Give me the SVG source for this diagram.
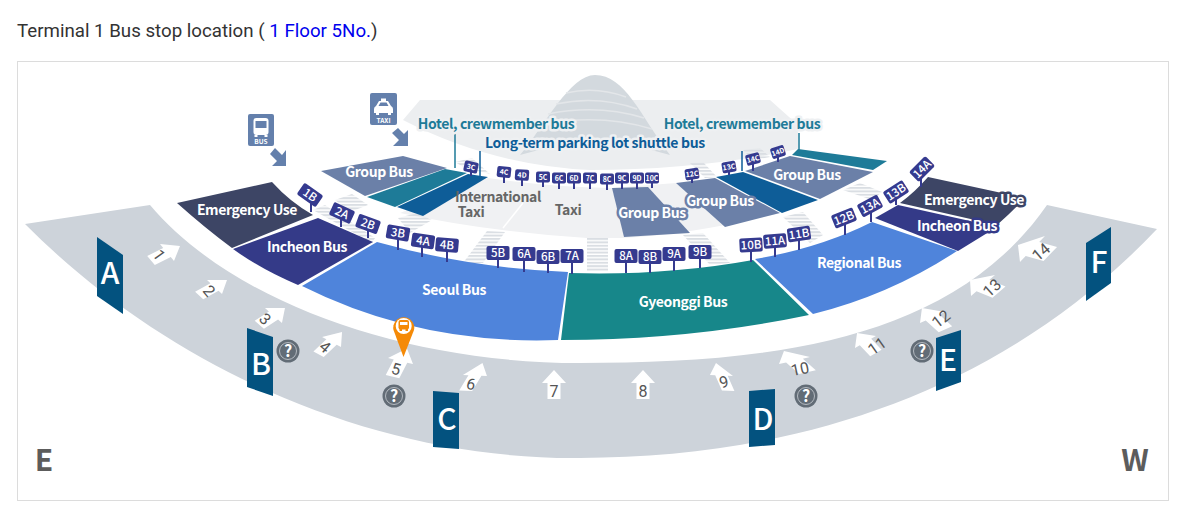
<svg xmlns="http://www.w3.org/2000/svg" width="1189" height="513" viewBox="0 0 1189 513">
<style>
text{font-family:"Noto Sans CJK KR","Noto Sans",sans-serif;text-anchor:middle}
.title{font-family:Roboto,sans-serif;font-size:18.7px;text-anchor:start;fill:#333}
.zone{font-size:14px;font-weight:700;fill:#fff;letter-spacing:-.4px}
.halo{paint-order:stroke;stroke-width:5px;stroke-linejoin:round}
.tag rect{fill:#353a8f;rx:2px}
.big text{font-size:11.5px;fill:#fff;font-weight:500}
.small text{font-size:7px;fill:#fff;font-weight:700}
.stem{stroke:#353a8f;stroke-width:2;fill:none}
.door{fill:#03527f}
.doortxt{font-size:30px;font-weight:500;fill:#fff}
.dir{font-size:30px;font-weight:700;fill:#5c5c5c}
.arrow use{fill:#fff}
.arrow text{font-family:Roboto,sans-serif;font-size:16px;fill:#555}
.q circle.o{fill:#626c76}
.q circle.i{fill:none;stroke:#b4bac1;stroke-width:1}
.q text{font-size:16px;font-weight:700;fill:#fff}
.cross{fill:url(#stripes)}
.hotel{font-size:14px;font-weight:700;fill:#1e7b98;letter-spacing:-.4px}
.long{font-size:14px;font-weight:700;fill:#0e5d98;letter-spacing:-.32px}
.gray{font-size:14px;font-weight:700;fill:#666;letter-spacing:-.4px}
</style>
<defs>
<pattern id="stripes" width="4" height="3.4" patternUnits="userSpaceOnUse"><rect width="4" height="2" fill="#dadee3"/></pattern>
<path id="arw" d="M0,-15 L12,-2 L6.5,-2 L6.5,14 L-6.5,14 L-6.5,-2 L-12,-2 Z"/>
</defs>
<text class="title" x="17" y="36.500">Terminal 1 Bus stop location ( <tspan fill="#0000ee">1 Floor 5No.</tspan>)</text>
<rect x="17.5" y="61.5" width="1151" height="439" fill="#fff" stroke="#dcdcdc"/>

<g id="terminal">
<path fill="#eceef0" d="M403,120 L420,100 L770,100 L798,125 L798,149 Q700,170 590,170 Q490,165 403,120 Z"/>
<path fill="#d3d9de" d="M520,155 C545,125 570,75 595,75 C625,75 640,115 670,155 Q595,132 520,155 Z"/>
<path fill="none" stroke="#e3e6e9" stroke-width="1.5" d="M566,93 Q596,86 626,97 M556,104 Q598,95 637,109 M548,114 Q598,104 644,118 M540,125 Q598,113 652,129"/>
<path fill="#f0f1f3" d="M488,178 Q550,187 612,188 L676,183 L780,213 Q690,235 623,238 L587,238 Q490,232 400,213 Z"/>
<path fill="none" stroke="#fff" stroke-width="1.5" d="M523,203 L503,228"/>
</g>
<g id="crosswalks">
<polygon class="cross" points="487,231 505,232 483,263 463,263"/>
<polygon class="cross" points="587,238 608,238 608,272 587,272"/>
<polygon class="cross" points="313,210 325,205 375,238 372,243"/>
<polygon class="cross" points="335,200 352,194 368,205 350,212"/>
<polygon class="cross" points="398,218 417,213 432,220 410,233"/>
<polygon class="cross" points="683,235 703,233 730,263 710,265"/>
<polygon class="cross" points="783,217 803,212 823,235 810,243"/>
<polygon class="cross" points="843,190 860,183 882,192 872,200"/>
<polygon class="cross" points="455,162 472,158 490,174 465,168"/>
<polygon class="cross" points="690,163 703,162 717,177 705,178"/>
<polygon class="cross" points="743,150 760,148 770,157 753,160"/>
</g>

<path id="band" fill="#cdd3da" d="M25,224 L150,205 C230,300 400,363 580,363 C760,363 950,345 1047,205 L1157,229 C1000,395 790,458 580,458 C370,460 165,365 25,224 Z"/>

<g id="zone-emergency-l"><path fill="#3d4565" d="M177,203 L272,182 Q290,202 313,215 L232,248 Q205,228 177,203 Z"/><text class="zone" x="247" y="215">Emergency Use</text></g>
<g id="zone-incheon-l"><path fill="#343a88" d="M318,218 L373,242 L298,285 Q262,270 233,249 Z"/><text class="zone" x="307" y="252">Incheon Bus</text></g>
<g id="zone-seoul"><path fill="#4f84db" d="M377,242 Q470,268 568,272 L558,340 Q420,345 302,286 Z"/><text class="zone" x="454" y="295">Seoul Bus</text></g>
<g id="zone-gyeonggi"><path fill="#17878a" d="M569,273 Q665,276 753,260 L809,315 Q690,340 561,340 Z"/><text class="zone" x="683" y="307">Gyeonggi Bus</text></g>
<g id="zone-regional"><path fill="#4f84db" d="M755,259 Q820,248 872,222 L957,251 Q890,295 813,314 Z"/><text class="zone" x="859" y="268">Regional Bus</text></g>
<g id="zone-emergency-r"><path fill="#3d4565" d="M928,177 L1025,198 Q1012,212 997,225 L900,203 Q915,192 928,177 Z"/><text class="zone halo" stroke="#3d4565" x="974" y="205">Emergency Use</text></g>
<g id="zone-incheon-r"><path fill="#343a88" d="M875,218 L898,205 L997,227 L958,251 Z"/><text class="zone halo" stroke="#343a88" x="957" y="231">Incheon Bus</text></g>

<g id="zone-group-1"><path fill="#6b80a8" d="M321,171 L403,156 L447,168 L365,196 Z"/><text class="zone" x="379" y="177">Group Bus</text></g>
<path id="zone-hotel-l" fill="#1e7b98" d="M445,169 L467,173 L395,207 L367,197 Z"/>
<path id="zone-long-l" fill="#0e5d98" d="M468,174 L488,177 L423,216 L397,207 Z"/>
<g id="zone-group-2"><path fill="#6b80a8" d="M612,188 L648,187 L690,233 L624,237 Z"/></g>
<g id="zone-group-3"><path fill="#6b80a8" d="M676,183 L715,178 L780,213 L725,227 Z"/></g>
<path id="zone-long-r" fill="#0e5d98" d="M716,177 L743,172 L818,200 L782,213 Z"/>
<g id="zone-group-4"><path fill="#6b80a8" d="M745,171 L790,156 L873,172 L820,199 Z"/><text class="zone" x="807" y="180">Group Bus</text></g>
<path id="zone-hotel-r" fill="#1e7b98" d="M792,155 L798,149 L887,161 L873,170 Z"/>
<text id="lbl-group-2" class="zone halo" stroke="#6b80a8" x="652" y="218">Group Bus</text>
<text id="lbl-group-3" class="zone halo" stroke="#6b80a8" x="720" y="206">Group Bus</text>

<g id="lbl-taxi">
<text class="gray" x="498" y="202">International</text>
<text class="gray" x="471" y="217">Taxi</text>
<text class="gray" x="568" y="215">Taxi</text>
</g>

<g id="connectors">
<path fill="none" stroke="#1e7b98" stroke-width="1.5" d="M455,133 V168 M799,133 V150"/>
<path fill="none" stroke="#0e5d98" stroke-width="1.5" d="M480,151 V177 M742,151 V171"/>
<path class="stem" d="M311,200 V212 M341,216 V227 M368,227 V238 M398,236 V250 M422,244 V257 M447,248 V262 M498,256 V268 M524,257 V272 M548,260 V273 M572,259 V274 M626,259 V273 M650,260 V273 M674,257 V271 M700,255 V268 M751,248 V262 M775,244 V257 M799,237 V250 M845,221 V235 M871,209 V222 M896,195 V205 M921,172 V187"/>
<path class="stem" stroke-width="1.5" d="M471,170 V176 M504,175 V183 M522,178 V186 M543,180 V187 M559,181 V189 M574,181 V189 M590,181 V189 M607,182 V190 M622,181 V189 M637,181 V189 M652,181 V188 M692,177 V183 M729,170 V175 M753,162 V171 M778,155 V162"/>
</g>

<g id="hotel-labels">
<text class="hotel halo" stroke="#eef0f2" x="496" y="129">Hotel, crewmember bus</text>
<text class="hotel halo" stroke="#eef0f2" x="742" y="129">Hotel, crewmember bus</text>
<text class="long halo" stroke="#eef0f2" x="595" y="148">Long-term parking lot shuttle bus</text>
</g>

<g id="tag-1B" class="tag big" transform="translate(310,195) rotate(35)"><rect x="-11.5" y="-7" width="23" height="14"/><text y="4">1B</text></g>
<g id="tag-2A" class="tag big" transform="translate(342,213) rotate(25)"><rect x="-11.5" y="-7" width="23" height="14"/><text y="4">2A</text></g>
<g id="tag-2B" class="tag big" transform="translate(368,224) rotate(20)"><rect x="-11.5" y="-7" width="23" height="14"/><text y="4">2B</text></g>
<g id="tag-3B" class="tag big" transform="translate(398,233) rotate(10)"><rect x="-11.5" y="-7" width="23" height="14"/><text y="4">3B</text></g>
<g id="tag-4A" class="tag big" transform="translate(423,241) rotate(8)"><rect x="-11.5" y="-7" width="23" height="14"/><text y="4">4A</text></g>
<g id="tag-4B" class="tag big" transform="translate(447,245) rotate(5)"><rect x="-11.5" y="-7" width="23" height="14"/><text y="4">4B</text></g>
<g id="tag-5B" class="tag big" transform="translate(498,253)"><rect x="-11.5" y="-7" width="23" height="14"/><text y="4">5B</text></g>
<g id="tag-6A" class="tag big" transform="translate(524,254)"><rect x="-11.5" y="-7" width="23" height="14"/><text y="4">6A</text></g>
<g id="tag-6B" class="tag big" transform="translate(548,257)"><rect x="-11.5" y="-7" width="23" height="14"/><text y="4">6B</text></g>
<g id="tag-7A" class="tag big" transform="translate(572,256)"><rect x="-11.5" y="-7" width="23" height="14"/><text y="4">7A</text></g>
<g id="tag-8A" class="tag big" transform="translate(626,256)"><rect x="-11.5" y="-7" width="23" height="14"/><text y="4">8A</text></g>
<g id="tag-8B" class="tag big" transform="translate(650,257)"><rect x="-11.5" y="-7" width="23" height="14"/><text y="4">8B</text></g>
<g id="tag-9A" class="tag big" transform="translate(674,254)"><rect x="-11.5" y="-7" width="23" height="14"/><text y="4">9A</text></g>
<g id="tag-9B" class="tag big" transform="translate(700,252)"><rect x="-11.5" y="-7" width="23" height="14"/><text y="4">9B</text></g>
<g id="tag-10B" class="tag big" transform="translate(751,245) rotate(-3)"><rect x="-11.5" y="-7" width="23" height="14"/><text y="4">10B</text></g>
<g id="tag-11A" class="tag big" transform="translate(775,241) rotate(-5)"><rect x="-11.5" y="-7" width="23" height="14"/><text y="4">11A</text></g>
<g id="tag-11B" class="tag big" transform="translate(799,234) rotate(-8)"><rect x="-11.5" y="-7" width="23" height="14"/><text y="4">11B</text></g>
<g id="tag-12B" class="tag big" transform="translate(844,218) rotate(-22)"><rect x="-11.5" y="-7" width="23" height="14"/><text y="4">12B</text></g>
<g id="tag-13A" class="tag big" transform="translate(870,206) rotate(-28)"><rect x="-11.5" y="-7" width="23" height="14"/><text y="4">13A</text></g>
<g id="tag-13B" class="tag big" transform="translate(896,192) rotate(-33)"><rect x="-11.5" y="-7" width="23" height="14"/><text y="4">13B</text></g>
<g id="tag-14A" class="tag big" transform="translate(922,169) rotate(-45)"><rect x="-11.5" y="-7" width="23" height="14"/><text y="4">14A</text></g>

<g id="tag-3C" class="tag small" transform="translate(471,167) rotate(12)"><rect x="-7" y="-5.5" width="14" height="11"/><text y="2.5">3C</text></g>
<g id="tag-4C" class="tag small" transform="translate(504,172) rotate(6)"><rect x="-7" y="-5.5" width="14" height="11"/><text y="2.5">4C</text></g>
<g id="tag-4D" class="tag small" transform="translate(522,175) rotate(4)"><rect x="-7" y="-5.5" width="14" height="11"/><text y="2.5">4D</text></g>
<g id="tag-5C" class="tag small" transform="translate(543,177)"><rect x="-7" y="-5.5" width="14" height="11"/><text y="2.5">5C</text></g>
<g id="tag-6C" class="tag small" transform="translate(559,178)"><rect x="-7" y="-5.5" width="14" height="11"/><text y="2.5">6C</text></g>
<g id="tag-6D" class="tag small" transform="translate(574,178)"><rect x="-7" y="-5.5" width="14" height="11"/><text y="2.5">6D</text></g>
<g id="tag-7C" class="tag small" transform="translate(590,178)"><rect x="-7" y="-5.5" width="14" height="11"/><text y="2.5">7C</text></g>
<g id="tag-8C" class="tag small" transform="translate(607,179)"><rect x="-7" y="-5.5" width="14" height="11"/><text y="2.5">8C</text></g>
<g id="tag-9C" class="tag small" transform="translate(622,178)"><rect x="-7" y="-5.5" width="14" height="11"/><text y="2.5">9C</text></g>
<g id="tag-9D" class="tag small" transform="translate(637,178)"><rect x="-7" y="-5.5" width="14" height="11"/><text y="2.5">9D</text></g>
<g id="tag-10C" class="tag small" transform="translate(652,178)"><rect x="-7" y="-5.5" width="14" height="11"/><text y="2.5">10C</text></g>
<g id="tag-12C" class="tag small" transform="translate(692,174) rotate(-8)"><rect x="-7" y="-5.5" width="14" height="11"/><text y="2.5">12C</text></g>
<g id="tag-13C" class="tag small" transform="translate(729,167) rotate(-10)"><rect x="-7" y="-5.5" width="14" height="11"/><text y="2.5">13C</text></g>
<g id="tag-14C" class="tag small" transform="translate(753,159) rotate(-15)"><rect x="-7" y="-5.5" width="14" height="11"/><text y="2.5">14C</text></g>
<g id="tag-14D" class="tag small" transform="translate(778,152) rotate(-18)"><rect x="-7" y="-5.5" width="14" height="11"/><text y="2.5">14D</text></g>

<g id="door-A"><polygon class="door" points="97,237 123,255 123,314 97,296"/><text class="doortxt" x="110" y="284">A</text></g>
<g id="door-B"><polygon class="door" points="247,328 273,337 273,396 247,387"/><text class="doortxt" x="261" y="375">B</text></g>
<g id="door-C"><polygon class="door" points="433,391 459,393 459,449 433,447"/><text class="doortxt" x="447" y="430">C</text></g>
<g id="door-D"><polygon class="door" points="749,391 775,389 775,445 749,447"/><text class="doortxt" x="763" y="430">D</text></g>
<g id="door-E"><polygon class="door" points="936,338 961,330 961,382 936,391"/><text class="doortxt" x="948" y="371">E</text></g>
<g id="door-F"><polygon class="door" points="1086,243 1111,227 1111,283 1086,301"/><text class="doortxt" x="1099" y="273">F</text></g>

<text id="dir-E" class="dir" x="44" y="471">E</text>
<text id="dir-W" class="dir" x="1135" y="471">W</text>

<g id="arrow-1" class="arrow"><use href="#arw" transform="matrix(.583,.708,-1,.5,165,253.5)"/><text transform="translate(159,255) rotate(55)" y="5.500">1</text></g>
<g id="arrow-2" class="arrow"><use href="#arw" transform="matrix(.625,.583,-.96,.54,212.6,288)"/><text transform="translate(209,291) rotate(50)" y="5.500">2</text></g>
<g id="arrow-3" class="arrow"><use href="#arw" transform="matrix(.708,.625,-.885,.577,271.7,316.7)"/><text transform="translate(265,319) rotate(45)" y="5.500">3</text></g>
<g id="arrow-4" class="arrow"><use href="#arw" transform="matrix(.79,.417,-.81,.77,329.9,343.5)"/><text transform="translate(325,347) rotate(40)" y="5.500">4</text></g>
<g id="arrow-5" class="arrow"><use href="#arw" transform="matrix(1.04,.25,-.5,.97,399.5,363)"/><text transform="translate(396,369) rotate(15)" y="5.500">5</text></g>
<g id="arrow-6" class="arrow"><use href="#arw" transform="matrix(1,.04,-.58,.96,473.8,377.4)"/><text transform="translate(471,384) rotate(15)" y="5.500">6</text></g>
<g id="arrow-7" class="arrow"><use href="#arw" transform="translate(554,385)"/><text x="554" y="397">7</text></g>
<g id="arrow-8" class="arrow"><use href="#arw" transform="translate(643,385)"/><text x="643" y="397">8</text></g>
<g id="arrow-9" class="arrow"><use href="#arw" transform="matrix(.96,.04,.42,.96,722.3,377.4)"/><text transform="translate(724,382) rotate(-15)" y="5.500">9</text></g>
<g id="arrow-10" class="arrow"><use href="#arw" transform="matrix(1.29,-.29,.81,.73,796.1,362)"/><text transform="translate(800,369) rotate(-12)" y="5.500">10</text></g>
<g id="arrow-11" class="arrow"><use href="#arw" transform="matrix(.875,-.5,.65,.69,866.8,343.4)"/><text transform="translate(877,346) rotate(-35)" y="5.500">11</text></g>
<g id="arrow-12" class="arrow"><use href="#arw" transform="matrix(1.04,-.46,.81,.73,934.1,319)"/><text transform="translate(941,319) rotate(-38)" y="5.500">12</text></g>
<g id="arrow-13" class="arrow"><use href="#arw" transform="matrix(1,-.875,1,.42,985,286.3)"/><text transform="translate(992,288) rotate(-42)" y="5.500">13</text></g>
<g id="arrow-14" class="arrow"><use href="#arw" transform="matrix(1.04,-1.08,1.115,.308,1034.7,249.6)"/><text transform="translate(1041,252) rotate(-40)" y="5.500">14</text></g>

<g id="help-1" class="q" transform="translate(288,351)"><circle class="o" r="11.5"/><circle class="i" r="8.5"/><text y="5.5">?</text></g>
<g id="help-2" class="q" transform="translate(394,396)"><circle class="o" r="11.5"/><circle class="i" r="8.5"/><text y="5.5">?</text></g>
<g id="help-3" class="q" transform="translate(806,396)"><circle class="o" r="11.5"/><circle class="i" r="8.5"/><text y="5.5">?</text></g>
<g id="help-4" class="q" transform="translate(922,351)"><circle class="o" r="11.5"/><circle class="i" r="8.5"/><text y="5.5">?</text></g>

<g id="pin">
<path fill="#f58a07" d="M393.5,330 A10.5,10.5 0 1 1 414,330 L403.5,357 Z"/>
<circle cx="403.7" cy="326" r="8" fill="#fff"/>
<rect x="398.5" y="320" width="10.5" height="9.5" rx="2" fill="#f58a07"/>
<rect x="400" y="322" width="7.5" height="3" fill="#fff"/>
<rect x="399.5" y="329" width="2.5" height="2" fill="#f58a07"/>
<rect x="405.5" y="329" width="2.5" height="2" fill="#f58a07"/>
</g>

<g id="icon-bus">
<rect x="248" y="114" width="26" height="32" rx="2" fill="#6480ac"/>
<rect x="253.5" y="118" width="15" height="17" rx="3" fill="#fff"/>
<rect x="255.5" y="121" width="11" height="7" fill="#6480ac"/>
<rect x="254.5" y="135" width="3" height="2" fill="#fff"/>
<rect x="264.5" y="135" width="3" height="2" fill="#fff"/>
<text x="261" y="144" font-size="6.5" font-weight="700" fill="#fff">BUS</text>
<polygon fill="#6480ac" points="270,154 275,148 282,155 286,150 286,166 272,166 277,161"/>
</g>
<g id="icon-taxi">
<rect x="370" y="93" width="27" height="32" rx="2" fill="#6480ac"/>
<path fill="#fff" d="M381,101 V98.500 H386 V101 H388 L391,106 Q393,107 393,109 V113 H391 V115 H388 V113 H379 V115 H376 V113 H374 V109 Q374,107 376,106 L379,101 Z"/>
<path fill="#6480ac" d="M380.500,102.500 H386.500 L388.500,106 H378.500 Z"/>
<text x="383.500" y="123" font-size="6.5" font-weight="700" fill="#fff">TAXI</text>
<polygon fill="#6480ac" points="392,133 398,128 404,134 408,130 408,146 393,146 399,140"/>
</g>
</svg>
